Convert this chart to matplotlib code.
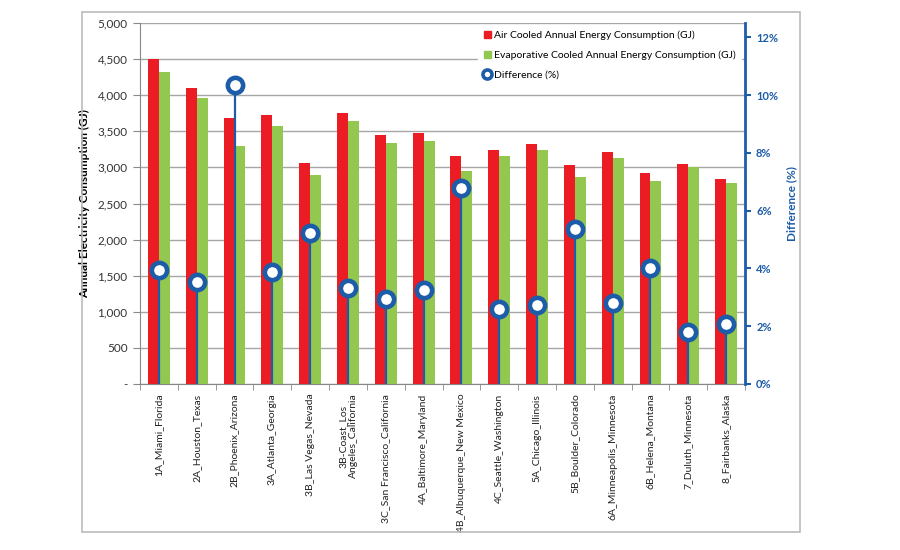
import matplotlib
matplotlib.use("Agg")
import matplotlib.pyplot as plt
from matplotlib.lines import Line2D
from matplotlib.patches import Rectangle
from matplotlib.ticker import FuncFormatter, MultipleLocator
import numpy as np

plt.rcParams['font.family'] = ['Lato', 'DejaVu Sans']

categories = ["1A_Miami_Florida", "2A_Houston_Texas", "2B_Phoenix_Arizona",
              "3A_Atlanta_Georgia", "3B_Las Vegas_Nevada", "3B-Coast_Los\nAngeles_California",
              "3C_San Francisco_California", "4A_Baltimore_Maryland",
              "4B_Albuquerque_New Mexico", "4C_Seattle_Washington", "5A_Chicago_Illinois",
              "5B_Boulder_Colorado", "6A_Minneapolis_Minnesota", "6B_Helena_Montana",
              "7_Duluth_Minnesota", "8_Fairbanks_Alaska"]
air_cooled = [4500, 4100, 3680, 3720, 3060, 3760, 3450, 3470,
              3160, 3240, 3330, 3040, 3220, 2920, 3050, 2840]
evap_cooled = [4320, 3960, 3300, 3575, 2895, 3640, 3340, 3360,
               2950, 3155, 3245, 2870, 3130, 2805, 3005, 2785]
difference_pct = [3.96, 3.54, 10.35, 3.89, 5.24, 3.33, 2.95, 3.26,
                  6.77, 2.60, 2.74, 5.38, 2.81, 4.03, 1.81, 2.08]

RED = "#EC1C24"
GREEN = "#92C850"
BLUE = "#1C5CA8"

fig = plt.figure(figsize=(9, 5.5), dpi=100)
# outer chart border
fig.patches.append(Rectangle((82/900, 1-532/550), (800-82)/900, (532-12)/550,
                             transform=fig.transFigure, fill=False,
                             edgecolor="#BBBBBB", linewidth=1.2))

ax = fig.add_axes([140/900, 1-384/550, (745-140)/900, (384-23)/550])
x = np.arange(len(categories))
w = 0.29
ax.bar(x - w/2, air_cooled, width=w, color=RED, zorder=2,
       label="Air Cooled Annual Energy Consumption (GJ)")
ax.bar(x + w/2, evap_cooled, width=w, color=GREEN, zorder=2,
       label="Evaporative Cooled Annual Energy Consumption (GJ)")
ax.set_xlim(-0.5, len(categories) - 0.5)
ax.set_ylim(0, 5000)
ax.yaxis.set_major_locator(MultipleLocator(500))
ax.yaxis.set_major_formatter(FuncFormatter(lambda v, p: "-" if v == 0 else f"{int(v):,}"))
ax.grid(axis="y", color="#A6A6A6", linewidth=1.0, zorder=0)
ax.set_axisbelow(True)
ax.set_xticks(x)
ax.set_xticklabels(categories, rotation=90, fontsize=7.5, color="#222222", va="top")
ax.tick_params(axis="x", which="major", length=0, pad=7)
ax.set_xticks(np.arange(-0.5, len(categories)), minor=True)
ax.tick_params(axis="x", which="minor", length=4, color="#888888")
ax.tick_params(axis="y", length=5, color="#888888", labelsize=8.5, labelcolor="#333333", pad=4)
ax.set_ylabel("Annual Electricity Consumption (GJ)", fontsize=8.5, fontweight="bold")
ax.yaxis.set_label_coords((90-140)/605, 0.5)
for s in ["top", "right"]:
    ax.spines[s].set_visible(False)
ax.spines["left"].set_color("#888888")
ax.spines["bottom"].set_color("#888888")

ax2 = ax.twinx()
ax2.set_ylim(0, 12.5)
ax2.set_yticks(np.arange(0, 13, 2))
ax2.yaxis.set_major_formatter(FuncFormatter(lambda v, p: f"{int(v)}%"))
ax2.tick_params(axis="y", colors=BLUE, labelsize=8, length=4, width=1.5, pad=4)
for lab in ax2.get_yticklabels():
    lab.set_fontweight("bold")
ax2.spines["right"].set_color(BLUE)
ax2.spines["right"].set_linewidth(2)
for s in ["top", "left", "bottom"]:
    ax2.spines[s].set_visible(False)
ax2.set_ylabel("Difference (%)", color=BLUE, fontsize=8.5, fontweight="bold")
ax2.yaxis.set_label_coords((786-140)/605, 0.5)
ax2.vlines(x, 0, difference_pct, color=BLUE, linewidth=1.6, zorder=3)
ax2.plot(x, difference_pct, linestyle="none", marker="o", markersize=11,
         markerfacecolor="white", markeredgecolor=BLUE, markeredgewidth=3.3, zorder=4)

handles = [
    Rectangle((0, 0), 1, 1, color=RED),
    Rectangle((0, 0), 1, 1, color=GREEN),
    Line2D([], [], linestyle="none", marker="o", markersize=6.5, markerfacecolor="white",
           markeredgecolor=BLUE, markeredgewidth=2.6),
]
labels = ["Air Cooled Annual Energy Consumption (GJ)",
          "Evaporative Cooled Annual Energy Consumption (GJ)",
          "Difference (%)"]
leg = ax2.legend(handles, labels, loc="upper left",
                 bbox_to_anchor=(478/900, 1-25/550), bbox_transform=fig.transFigure,
                 frameon=True, fancybox=False, edgecolor="white", framealpha=1,
                 fontsize=7.5, handlelength=0.65, handleheight=0.65, handletextpad=0.3,
                 labelspacing=1.0, borderpad=0.55, borderaxespad=0)
leg.set_zorder(10)

fig.savefig("out.png", dpi=100, facecolor="white")
